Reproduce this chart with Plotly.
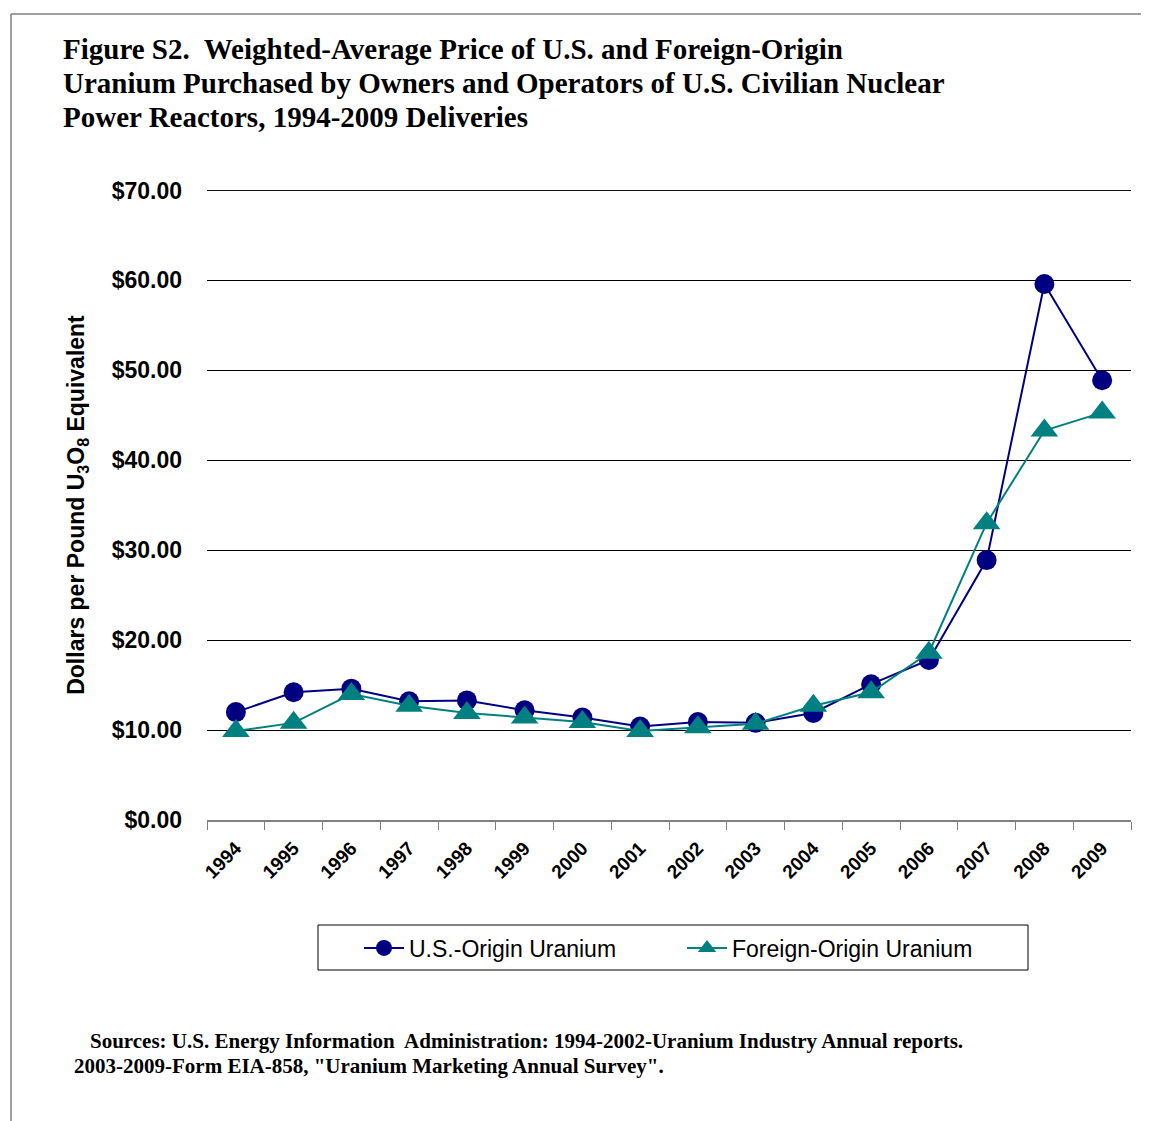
"""Weighted-average uranium price chart, U.S. vs foreign origin, 1994-2009."""

import plotly.graph_objects as go

# ---------------------------------------------------------------------------
# Data
# ---------------------------------------------------------------------------

years = [str(y) for y in range(1994, 2010)]
us_origin = [12.0, 14.2, 14.6, 13.2, 13.3, 12.2, 11.4, 10.4,
             10.9, 10.8, 11.9, 15.1, 17.8, 28.9, 59.6, 48.9]
foreign_origin = [9.9, 10.8, 14.0, 12.7, 11.9, 11.4, 10.9, 9.9,
                  10.3, 10.7, 12.7, 14.2, 18.6, 33.0, 43.3, 45.3]
y_ticks = [0, 10, 20, 30, 40, 50, 60, 70]

# ---------------------------------------------------------------------------
# Layout geometry (page pixels; the page body adds an 8px offset)
# ---------------------------------------------------------------------------

PAGE_W, PAGE_H = 1149, 1121
OFF = 8
L, R, T, B = 207, 1131, 190, 820


def px_x(x):
    return (x - L) / (R - L)


def px_y(y):
    return (B - y) / (B - T)


SANS = "Liberation Sans, Arial, sans-serif"
SERIF = "Liberation Serif, Times New Roman, serif"

fig = go.Figure()
fig.add_trace(
    go.Scatter(
        x=years,
        y=us_origin,
        mode="lines+markers",
        name="U.S.-Origin Uranium",
        line=dict(color="#000080", width=2),
        marker=dict(symbol="circle", size=20, color="#000080"),
    )
)
fig.add_trace(
    go.Scatter(
        x=years,
        y=foreign_origin,
        mode="lines+markers",
        name="Foreign-Origin Uranium",
        line=dict(color="#008080", width=2),
        marker=dict(symbol="triangle-up", size=24, color="#008080"),
    )
)

title_lines = [
    "Figure S2.  Weighted-Average Price of U.S. and Foreign-Origin",
    "Uranium Purchased by Owners and Operators of U.S. Civilian Nuclear",
    "Power Reactors, 1994-2009 Deliveries",
]
title_ys = [49, 83, 117]

annotations = [
    dict(
        text=line,
        xref="paper", yref="paper",
        x=px_x(61), y=px_y(yy),
        xanchor="left", yanchor="middle", align="left",
        showarrow=False,
        font=dict(family=SERIF, size=29, color="black", weight="bold"),
    )
    for line, yy in zip(title_lines, title_ys)
]
annotations += [
    dict(
        text="Sources: U.S. Energy Information  Administration: 1994-2002-Uranium Industry Annual reports.",
        xref="paper", yref="paper",
        x=px_x(88), y=px_y(1041),
        xanchor="left", yanchor="middle", align="left",
        showarrow=False,
        font=dict(family=SERIF, size=21, color="black", weight="bold"),
    ),
    dict(
        text='2003-2009-Form EIA-858, "Uranium Marketing Annual Survey".',
        xref="paper", yref="paper",
        x=px_x(72), y=px_y(1066),
        xanchor="left", yanchor="middle", align="left",
        showarrow=False,
        font=dict(family=SERIF, size=21, color="black", weight="bold"),
    ),
]

fig.update_layout(
    width=PAGE_W - OFF,
    height=PAGE_H - OFF,
    margin=dict(l=L - OFF, r=PAGE_W - R, t=T - OFF, b=PAGE_H - B),
    plot_bgcolor="white",
    paper_bgcolor="white",
    showlegend=True,
    legend=dict(
        orientation="h",
        x=px_x(359),
        y=px_y(948),
        xanchor="left",
        yanchor="middle",
        bgcolor="rgba(0,0,0,0)",
        font=dict(family=SANS, size=23, color="black"),
        itemwidth=40,
        entrywidth=268,
    ),
    xaxis=dict(
        type="category",
        range=[-0.5, 15.5],
        tickson="boundaries",
        ticks="outside",
        ticklen=8,
        tickcolor="#808080",
        showline=True,
        linecolor="#808080",
        linewidth=1.5,
        showgrid=False,
        tickangle=-45,
        ticklabelstandoff=8,
        tickfont=dict(family=SANS, size=19, color="black", weight="bold"),
    ),
    yaxis=dict(
        range=[0, 70.05],
        tickvals=y_ticks,
        tickformat="$.2f",
        showgrid=True,
        gridcolor="black",
        gridwidth=1,
        zeroline=False,
        showline=False,
        ticks="",
        ticklabelstandoff=24,
        tickfont=dict(family=SANS, size=23, color="black", weight="bold"),
        title=dict(
            text="Dollars per Pound U<sub>3</sub>O<sub>8</sub> Equivalent",
            font=dict(family=SANS, size=23, color="black", weight="bold"),
            standoff=20,
        ),
    ),
    shapes=[
        # top gridline (plotly drops the one at the range edge)
        dict(type="line", xref="paper", yref="y",
             x0=0, x1=1, y0=y_ticks[-1], y1=y_ticks[-1],
             line=dict(color="black", width=1), layer="below"),
        # outer frame (left and top edges)
        dict(type="line", xref="paper", yref="paper",
             x0=px_x(11), x1=px_x(11), y0=px_y(14), y1=px_y(PAGE_H),
             line=dict(color="#808080", width=1.5)),
        dict(type="line", xref="paper", yref="paper",
             x0=px_x(11), x1=px_x(PAGE_W), y0=px_y(14), y1=px_y(14),
             line=dict(color="#808080", width=1.5)),
        # legend box
        dict(type="rect", xref="paper", yref="paper",
             x0=px_x(318), x1=px_x(1028), y0=px_y(925), y1=px_y(970),
             line=dict(color="black", width=1)),
    ],
    annotations=annotations,
)

fig.write_html("out.html")
